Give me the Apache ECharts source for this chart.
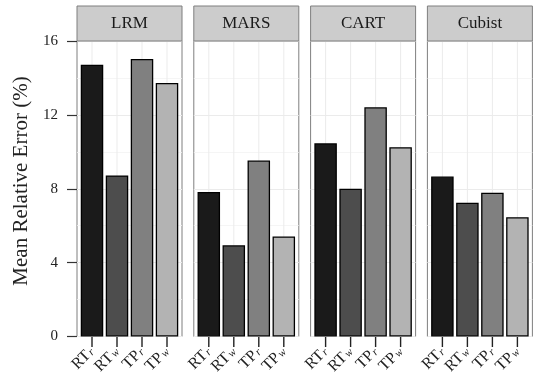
<!DOCTYPE html>
<html><head><meta charset="utf-8">
<script src="https://cdn.jsdelivr.net/npm/echarts@6/dist/echarts.min.js"></script>
<style>html,body{margin:0;padding:0;background:#fff}#c{width:535px;height:379px}</style>
</head><body><div id="c"></div>
<script>
const models = ['LRM', 'MARS', 'CART', 'Cubist'];
const methods = ['RT_r', 'RT_w', 'TP_r', 'TP_w'];
const methodBase = ['RT', 'RT', 'TP', 'TP'];
const methodSub = ['r', 'w', 'r', 'w'];
const lrm = [14.72, 8.72, 15.03, 13.73];
const mars = [7.82, 4.94, 9.53, 5.42];
const cart = [10.46, 8.0, 12.41, 10.25];
const cubist = [8.66, 7.24, 7.78, 6.46];
const yTicks = [0, 4, 8, 12, 16];
const values = [lrm, mars, cart, cubist];
const fills = ['#1a1a1a', '#4d4d4d', '#808080', '#b3b3b3'];
const yTitle = 'Mean Relative Error (%)';

const W = 535, H = 379;
const panelLeft = 77, panelW = 105, panelStep = 116.8, pad = 2.5;
const panelTop = 41, panelBottom = 336.5, stripTop = 6, tickLen = 10.5;
const FONT = '"Liberation Serif", "DejaVu Serif", serif';
const catPos = methods.map((_, j) => j + 1);

const grids = [], xAxes = [], yAxes = [], series = [], graphics = [];
models.forEach((m, i) => {
  const left = panelLeft + i * panelStep;
  const g = grids.length;
  grids.push({
    left: left, top: panelTop, width: panelW, height: panelBottom - panelTop,
    show: true, borderColor: '#7f7f7f', borderWidth: 1, backgroundColor: 'transparent', containLabel: false
  });
  xAxes.push({
    type: 'value', gridIndex: g, min: 0.4, max: 4.6,
    axisLine: { show: false }, axisTick: { show: false }, axisLabel: { show: false },
    splitLine: { show: false }
  });
  yAxes.push({
    type: 'value', gridIndex: g, min: yTicks[0], max: yTicks[yTicks.length - 1], interval: 4,
    axisLine: { show: false },
    axisTick: { show: i === 0, length: 10, lineStyle: { color: '#333', width: 1.2 } },
    axisLabel: { show: i === 0, margin: 19, fontFamily: FONT, fontSize: 15, color: '#222',
      hideOverlap: false, showMinLabel: true, showMaxLabel: true },
    splitLine: { show: true, lineStyle: { color: '#ebebeb', width: 1.1 } },
    minorTick: { show: false, splitNumber: 2 },
    minorSplitLine: { show: true, lineStyle: { color: '#f2f2f2', width: 0.8 } }
  });
  series.push({
    type: 'bar', xAxisIndex: g, yAxisIndex: g, barWidth: 22.5, z: 3,
    data: values[i].map((v, j) => ({ value: [catPos[j], v], itemStyle: { color: fills[j] } })),
    itemStyle: { borderColor: '#000', borderWidth: 1.3 }
  });
  grids.push({
    left: left + pad, top: panelTop, width: panelW - 2 * pad, height: panelBottom - panelTop,
    show: false, containLabel: false
  });
  xAxes.push({
    type: 'category', gridIndex: g + 1, data: methods, boundaryGap: true,
    axisLine: { show: false },
    axisTick: { show: false },
    axisLabel: {
      interval: 0, rotate: 45, margin: 13, color: '#222', hideOverlap: false,
      formatter: (v, idx) => `{a|${methodBase[idx]}}{s|${methodSub[idx]}}`,
      rich: {
        a: { fontFamily: FONT, fontSize: 16, lineHeight: 14, color: '#222' },
        s: { fontFamily: FONT, fontSize: 11, lineHeight: 1, verticalAlign: 'bottom', fontStyle: 'italic', color: '#222', padding: [0, 0, 0, 1] }
      }
    },
    splitLine: { show: false }
  });
  yAxes.push({ type: 'value', gridIndex: g + 1, show: false, min: 0, max: 16 });

  graphics.push({
    type: 'rect', shape: { x: left, y: stripTop, width: panelW, height: panelTop - stripTop },
    style: { fill: '#cccccc', stroke: '#7f7f7f', lineWidth: 1 }, z: 10
  });
  graphics.push({
    type: 'text', z: 11,
    style: { text: m, x: left + panelW / 2, y: (stripTop + panelTop) / 2 + 0.5, align: 'center', verticalAlign: 'middle',
      font: '17px ' + FONT, fill: '#1a1a1a' }
  });
});
graphics.push({
  type: 'text', z: 11, x: 21.5, y: 181, rotation: Math.PI / 2,
  style: { text: yTitle, x: 0, y: 0, align: 'center', verticalAlign: 'middle', font: '21px ' + FONT, fill: '#222' }
});

const chart = echarts.init(document.getElementById('c'), null, { renderer: 'canvas', width: W, height: H });
chart.setOption({
  animation: false,
  backgroundColor: '#fff',
  grid: grids, xAxis: xAxes, yAxis: yAxes, series: series
});

function toPx(g, pt) {
  let p = null;
  try { p = chart.convertToPixel({ gridIndex: g }, pt); } catch (e) { p = null; }
  if (!p || isNaN(p[0])) {
    try { p = chart.convertToPixel({ xAxisIndex: g, yAxisIndex: g }, pt); } catch (e) { p = null; }
  }
  return p;
}

// vertical grid lines and x tick marks at the category positions, placed through the axes' scales
models.forEach((m, i) => {
  const g = 2 * i;
  catPos.forEach(c => {
    const p0 = toPx(g, [c, yTicks[0]]);
    const p1 = toPx(g, [c, yTicks[yTicks.length - 1]]);
    if (!p0 || !p1) return;
    graphics.push({
      type: 'line', z: 1, silent: true,
      shape: { x1: p0[0], y1: p0[1], x2: p1[0], y2: p1[1] },
      style: { stroke: '#ebebeb', lineWidth: 1 }
    });
    graphics.push({
      type: 'line', z: 100, silent: true,
      shape: { x1: p0[0], y1: p0[1] + 0.5, x2: p0[0], y2: p0[1] + tickLen },
      style: { stroke: '#222', lineWidth: 1.4 }
    });
  });
});
chart.setOption({ graphic: { elements: graphics } });
</script></body></html>
